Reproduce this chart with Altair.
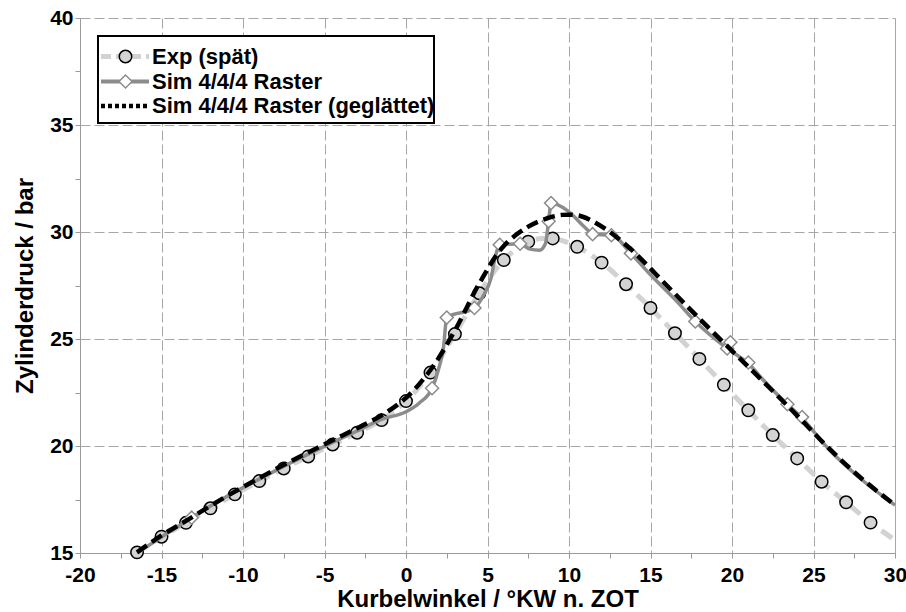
import altair as alt
import pandas as pd

# ---- data ----
exp_x = [-16.5, -15, -13.5, -12, -10.5, -9, -7.5, -6, -4.5, -3, -1.5, 0, 1.5, 3, 4.5, 6,
         7.5, 9, 10.5, 12, 13.5, 15, 16.5, 18, 19.5, 21, 22.5, 24, 25.5, 27, 28.5]
exp_y = [15.03, 15.76, 16.41, 17.09, 17.74, 18.36, 18.95, 19.51, 20.07, 20.62, 21.21, 22.1,
         23.43, 25.23, 27.14, 28.69, 29.55, 29.7, 29.31, 28.57, 27.56, 26.45, 25.27, 24.07,
         22.86, 21.67, 20.51, 19.42, 18.33, 17.37, 16.42]
exp_end_x = [30]
exp_end_y = [15.6]

sim_x = [-16.5, -15, -13.15, -12, -10.5, -9, -7.5, -6, -4.5, -3, -1.5, 0, 0.8, 1.6, 2.0, 2.3,
         2.5, 4.2, 4.8, 5.2, 5.5, 5.75, 7.0, 7.6, 8.2, 8.55, 8.75, 8.9, 9.9, 11.0, 11.45, 12.6,
         13.8, 15.0, 16.5, 17.75, 19.7, 21.0, 22.2, 23.4, 24.3, 26.0, 28.0, 30.0]
sim_y = [15.0, 15.75, 16.65, 17.2, 17.85, 18.45, 19.05, 19.62, 20.17, 20.7, 21.25, 21.6, 22.0,
         22.7, 23.6, 24.6, 26.0, 26.45, 27.1, 27.8, 28.9, 29.4, 29.45, 29.2, 29.15, 29.45, 30.5,
         31.35, 31.0, 30.2, 29.9, 29.85, 29.0, 28.0, 26.85, 25.82, 24.56, 23.85, 22.85,
         21.95, 21.3, 19.8, 18.4, 17.24]

sim_mark_x = [-13.15, 1.6, 2.5, 4.2, 5.75, 7.0, 8.75, 8.9, 11.45, 12.6, 13.8, 17.75, 19.7,
              19.9, 21.0, 23.4, 24.3]
sim_mark_y = [16.65, 22.7, 26.0, 26.45, 29.4, 29.45, 30.5, 31.35, 29.9, 29.85, 29.0, 25.82,
              24.56, 24.85, 23.9, 21.95, 21.35]

smooth_x = [-16.5, -15, -13.5, -12, -10.5, -9, -7.5, -6, -4.5, -3, -1.5, 0, 1.5, 3, 4.5, 6,
            7.5, 8.7, 9.6, 10.7, 11.7, 12.75, 14.0, 16.0, 18.0, 20.0, 22.0, 24.0, 26.0,
            28.0, 30.0]
smooth_y = [15.03, 15.82, 16.5, 17.2, 17.87, 18.5, 19.12, 19.7, 20.27, 20.83, 21.43, 22.25,
            23.55, 25.4, 27.6, 29.35, 30.25, 30.65, 30.8, 30.75, 30.4, 29.86, 29.05, 27.5,
            25.95, 24.45, 22.95, 21.42, 19.85, 18.45, 17.24]

legend_labels = ["Exp (spät)", "Sim 4/4/4 Raster", "Sim 4/4/4 Raster (geglättet)"]

x_ticks = [-20 + 2.5 * i for i in range(21)]
y_ticks = [15 + 2.5 * i for i in range(11)]

FONT = "Liberation Sans"
GRID = "#a6a6a6"
EXP_LINE = "#d2d2d2"
EXP_FILL = "#d4d4d4"
SIM = "#8c8c8c"

exp_df = pd.DataFrame({"x": exp_x, "y": exp_y})
exp_line_df = pd.DataFrame({"x": exp_x + exp_end_x, "y": exp_y + exp_end_y})
sim_df = pd.DataFrame({"x": sim_x, "y": sim_y})
sim_mark_df = pd.DataFrame({"x": sim_mark_x, "y": sim_mark_y})
smooth_df = pd.DataFrame({"x": smooth_x, "y": smooth_y})
one = pd.DataFrame({"a": [0]})

xenc = alt.X(
    "x:Q",
    scale=alt.Scale(domain=[-20, 30], nice=False, zero=False),
    axis=alt.Axis(
        values=x_ticks,
        labelExpr="datum.value % 5 === 0 ? '' + datum.value : ''",
        title="Kurbelwinkel / °KW n. ZOT",
        gridOpacity={"condition": {"test": "datum.value % 5 === 0", "value": 1}, "value": 0},
        gridDash={"condition": {"test": "datum.value === 30", "value": []}, "value": [10, 4]},
        labelPadding=6,
        titlePadding=2,
        labelFlush=False,
        labelOverlap=False,
    ),
)
yenc = alt.Y(
    "y:Q",
    scale=alt.Scale(domain=[15, 40], nice=False, zero=False),
    axis=alt.Axis(
        values=y_ticks,
        labelExpr="datum.value % 5 === 0 ? '' + datum.value : ''",
        title="Zylinderdruck / bar",
        gridOpacity={"condition": {"test": "datum.value % 5 === 0", "value": 1}, "value": 0},
        gridDash=[10, 4],
        labelPadding=2,
        titlePadding=12,
        labelFlush=False,
        labelOverlap=False,
    ),
)

exp_line = alt.Chart(exp_line_df).mark_line(
    color=EXP_LINE, strokeWidth=5, strokeDash=[13, 7], interpolate="catmull-rom"
).encode(x=xenc, y=yenc)
exp_pts = alt.Chart(exp_df).mark_point(
    shape="circle", size=155, filled=True, fill=EXP_FILL, stroke="black", strokeWidth=1.5, opacity=1
).encode(x=xenc, y=yenc)
sim_line = alt.Chart(sim_df).mark_line(
    color=SIM, strokeWidth=3.5, interpolate="monotone"
).encode(x=xenc, y=yenc)
sim_pts = alt.Chart(sim_mark_df).mark_point(
    shape="diamond", size=170, filled=True, fill="white", stroke=SIM, strokeWidth=1.5, opacity=1
).encode(x=xenc, y=yenc)
smooth_line = alt.Chart(smooth_df).mark_line(
    color="black", strokeWidth=4.5, strokeDash=[12, 6], interpolate="catmull-rom"
).encode(x=xenc, y=yenc)

# ---- legend (drawn inside the plot area) ----
bx0, bx1, by0, by1 = 18, 354, 18, 105
rows = [38.5, 63.5, 88]
sx0, sx1, sxm, tx = 21, 69, 45.5, 72

legend_box = alt.Chart(one).mark_rect(
    fill="white", stroke="black", strokeWidth=2
).encode(x=alt.value(bx0), x2=alt.value(bx1), y=alt.value(by0), y2=alt.value(by1))

leg_exp_line = alt.Chart(one).mark_rule(
    color=EXP_LINE, strokeWidth=5, strokeDash=[10, 5]
).encode(x=alt.value(sx0), x2=alt.value(sx1), y=alt.value(rows[0]))
leg_exp_pt = alt.Chart(one).mark_point(
    shape="circle", size=155, filled=True, fill=EXP_FILL, stroke="black", strokeWidth=1.5, opacity=1
).encode(x=alt.value(sxm), y=alt.value(rows[0]))
leg_sim_line = alt.Chart(one).mark_rule(
    color=SIM, strokeWidth=4
).encode(x=alt.value(sx0), x2=alt.value(sx1), y=alt.value(rows[1]))
leg_sim_pt = alt.Chart(one).mark_point(
    shape="diamond", size=170, filled=True, fill="white", stroke=SIM, strokeWidth=1.5, opacity=1
).encode(x=alt.value(sxm), y=alt.value(rows[1]))
leg_smooth_line = alt.Chart(one).mark_rule(
    color="black", strokeWidth=4.5, strokeDash=[4, 3]
).encode(x=alt.value(sx0), x2=alt.value(sx1), y=alt.value(rows[2]))

leg_texts = [
    alt.Chart(one).mark_text(
        align="left", baseline="middle", font=FONT, fontWeight="bold", fontSize=22, color="black"
    ).encode(x=alt.value(tx), y=alt.value(r), text=alt.value(t))
    for r, t in zip(rows, legend_labels)
]

chart = alt.layer(
    exp_line, exp_pts, sim_line, sim_pts, smooth_line,
    legend_box, leg_exp_line, leg_exp_pt, leg_sim_line, leg_sim_pt, leg_smooth_line,
    *leg_texts,
).properties(
    width=815, height=535,
    autosize=alt.AutoSizeParams(type="none"),
    padding={"left": 80, "top": 18, "right": 11, "bottom": 59},
    background="white",
).configure_view(
    stroke=None
).configure_axis(
    labelFont=FONT, labelFontWeight="bold", labelFontSize=21, labelColor="black",
    titleFont=FONT, titleFontWeight="bold", titleFontSize=24, titleColor="black",
    gridColor=GRID, gridWidth=1,
    domainColor="#9a9a9a", domainWidth=1,
    tickColor="#9a9a9a", tickSize=5, tickWidth=1,
)

chart.save("out.html", embed_options={"renderer": "svg", "actions": False})
